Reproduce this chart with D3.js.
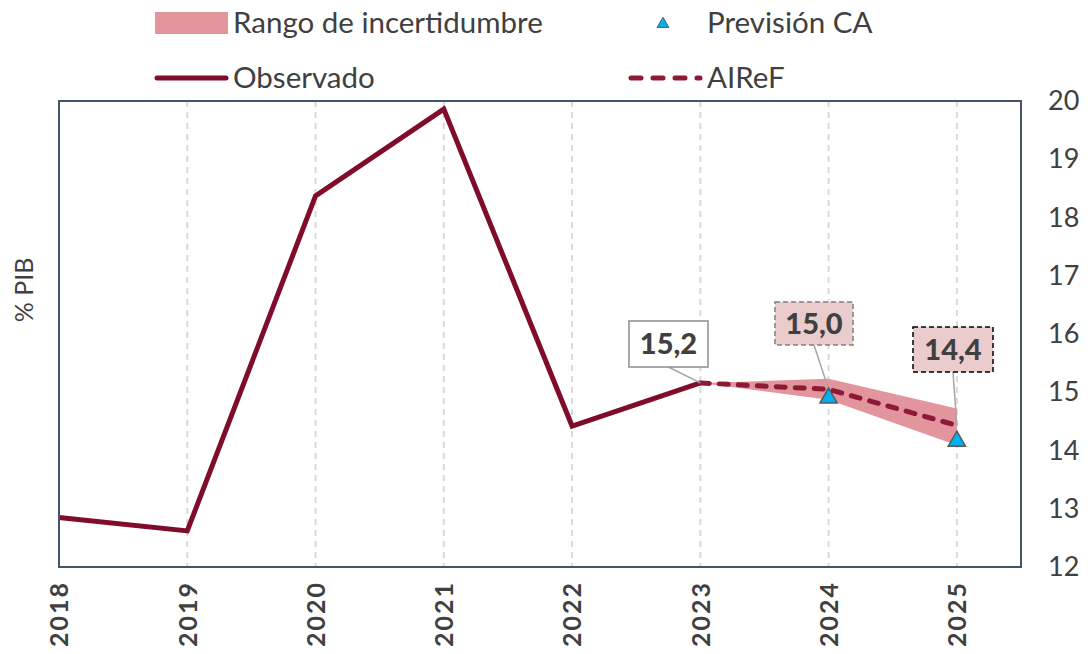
<!DOCTYPE html>
<html>
<head>
<meta charset="utf-8">
<script src="https://cdn.jsdelivr.net/npm/d3@7"></script>
<style>
  body { margin: 0; background: #fff; }
  svg text { font-family: Lato, "Open Sans", sans-serif; fill: #404040; }
</style>
</head>
<body>
<div class="chart"></div>
<script>
const years = [2018, 2019, 2020, 2021, 2022, 2023, 2024, 2025];
const observado = [12.85, 12.62, 18.37, 19.86, 14.42, 15.16];
const airefYears = [2023, 2024, 2025];
const aireF = [15.16, 15.05, 14.43];
const bandLow = [15.16, 14.87, 14.09];
const bandHigh = [15.16, 15.23, 14.72];
const caYears = [2024, 2025];
const previsionCA = [14.9, 14.16];
const yTicks = [12, 13, 14, 15, 16, 17, 18, 19, 20];
const labelTexts = ['15,2', '15,0', '14,4'];

const width = 1088, height = 654;
const margin = {top: 101, right: 67, bottom: 87, left: 59};

const svg = d3.select('.chart').append('svg')
  .attr('width', width)
  .attr('height', height);

const xScale = d3.scaleLinear()
  .domain([2018, 2025.5])
  .range([margin.left, width - margin.right]);

const yScale = d3.scaleLinear()
  .domain([12, 20])
  .range([height - margin.bottom, margin.top]);

// vertical gridlines
svg.append('g')
  .selectAll('line')
  .data(years.slice(1))
  .enter()
  .append('line')
  .attr('x1', d => xScale(d))
  .attr('x2', d => xScale(d))
  .attr('y1', margin.top)
  .attr('y2', height - margin.bottom)
  .attr('stroke', '#d9d9d9')
  .attr('stroke-width', 2)
  .attr('stroke-dasharray', '6,5');

// uncertainty band
const band = airefYears.map((y, i) => ({year: y, lo: bandLow[i], hi: bandHigh[i]}));
svg.append('path')
  .datum(band)
  .attr('fill', '#e3959e')
  .attr('d', d3.area()
    .x(d => xScale(d.year))
    .y0(d => yScale(d.lo))
    .y1(d => yScale(d.hi)));

// observed line
svg.append('path')
  .datum(observado.map((v, i) => [years[i], v]))
  .attr('fill', 'none')
  .attr('stroke', '#800c2b')
  .attr('stroke-width', 5)
  .attr('stroke-linejoin', 'miter')
  .attr('d', d3.line().x(d => xScale(d[0])).y(d => yScale(d[1])));

// AIReF dashed line
svg.append('path')
  .datum(aireF.map((v, i) => [airefYears[i], v]))
  .attr('fill', 'none')
  .attr('stroke', '#8c1a36')
  .attr('stroke-width', 5)
  .attr('stroke-linecap', 'round')
  .attr('stroke-dasharray', '9,10')
  .attr('d', d3.line().x(d => xScale(d[0])).y(d => yScale(d[1])));

// frame
svg.append('rect')
  .attr('x', margin.left)
  .attr('y', margin.top)
  .attr('width', width - margin.left - margin.right)
  .attr('height', height - margin.top - margin.bottom)
  .attr('fill', 'none')
  .attr('stroke', '#44546a')
  .attr('stroke-width', 2);

// data labels with leader lines
const labels = [
  {x: xScale(2023), y: yScale(observado[5]), bx: 629, by: 321, bw: 79, bh: 46, fill: '#fff', stroke: '#8c8c8c', dash: null, text: labelTexts[0]},
  {x: xScale(2024), y: yScale(aireF[1]), bx: 775, by: 302, bw: 78, bh: 43, fill: '#ebcccd', stroke: '#808080', dash: '5,3', text: labelTexts[1]},
  {x: xScale(2025), y: yScale(aireF[2]), bx: 913, by: 327, bw: 80, bh: 45, fill: '#ebcccd', stroke: '#000', dash: '5,3', text: labelTexts[2]}
];

labels.forEach(l => {
  svg.append('line')
    .attr('x1', l.bx + l.bw / 2)
    .attr('y1', l.by + l.bh)
    .attr('x2', l.x)
    .attr('y2', l.y)
    .attr('stroke', '#a6a6a6')
    .attr('stroke-width', 1.5);
});

// Previsión CA triangles
const tri = d3.symbol().type(d3.symbolTriangle).size(130);
svg.append('g')
  .selectAll('path')
  .data(caYears.map((y, i) => [y, previsionCA[i]]))
  .enter()
  .append('path')
  .attr('transform', d => `translate(${xScale(d[0])},${yScale(d[1])})`)
  .attr('d', tri)
  .attr('fill', '#00b0f0')
  .attr('stroke', '#595959')
  .attr('stroke-width', 1.5);

labels.forEach(l => {
  svg.append('rect')
    .attr('x', l.bx)
    .attr('y', l.by)
    .attr('width', l.bw)
    .attr('height', l.bh)
    .attr('fill', l.fill)
    .attr('stroke', l.stroke)
    .attr('stroke-width', 1.5)
    .attr('stroke-dasharray', l.dash);
  svg.append('text')
    .attr('x', l.bx + l.bw / 2)
    .attr('y', l.by + l.bh / 2 + 10)
    .attr('text-anchor', 'middle')
    .attr('font-size', 29)
    .attr('font-weight', 900)
    .text(l.text);
});

// right y axis
const yAxis = d3.axisRight(yScale)
  .tickValues(yTicks)
  .tickSize(0)
  .tickPadding(27)
  .tickFormat(d3.format('d'));

svg.append('g')
  .attr('transform', `translate(${width - margin.right},0)`)
  .call(yAxis)
  .call(g => g.select('.domain').remove())
  .selectAll('text')
  .attr('font-size', 27)
  .attr('font-family', 'Lato, sans-serif')
  .attr('fill', '#404040');

// bottom x axis, rotated labels
const xAxis = d3.axisBottom(xScale)
  .tickValues(years)
  .tickSize(0)
  .tickFormat(d3.format('d'));

svg.append('g')
  .attr('transform', `translate(0,${height - margin.bottom})`)
  .call(xAxis)
  .call(g => g.select('.domain').remove())
  .selectAll('text')
  .attr('font-size', 25)
  .attr('font-weight', 'bold')
  .attr('font-family', 'Lato, sans-serif')
  .attr('fill', '#404040')
  .attr('letter-spacing', 2)
  .attr('transform', 'rotate(-90)')
  .attr('text-anchor', 'end')
  .attr('x', -14)
  .attr('y', 0)
  .attr('dy', '0.35em');

// y axis title
svg.append('text')
  .attr('transform', 'translate(33,290) rotate(-90)')
  .attr('text-anchor', 'middle')
  .attr('font-size', 25)
  .text('% PIB');

// legend
const lg = svg.append('g');
lg.append('rect')
  .attr('x', 155).attr('y', 12).attr('width', 73).attr('height', 22)
  .attr('fill', '#e3959e');
lg.append('text').attr('x', 233).attr('y', 33).attr('font-size', 29.5).text('Rango de incertidumbre');

lg.append('path')
  .attr('transform', 'translate(663,24)')
  .attr('d', d3.symbol().type(d3.symbolTriangle).size(60))
  .attr('fill', '#00b0f0')
  .attr('stroke', '#595959')
  .attr('stroke-width', 1);
lg.append('text').attr('x', 707).attr('y', 33).attr('font-size', 29.5).text('Previsión CA');

lg.append('line')
  .attr('x1', 157).attr('x2', 226).attr('y1', 78).attr('y2', 78)
  .attr('stroke', '#800c2b').attr('stroke-width', 5).attr('stroke-linecap', 'round');
lg.append('text').attr('x', 233).attr('y', 88).attr('font-size', 29.5).text('Observado');

lg.append('line')
  .attr('x1', 631).attr('x2', 700).attr('y1', 78).attr('y2', 78)
  .attr('stroke', '#8c1a36').attr('stroke-width', 5).attr('stroke-linecap', 'round')
  .attr('stroke-dasharray', '10,12');
lg.append('text').attr('x', 707).attr('y', 88).attr('font-size', 29.5).text('AIReF');
</script>
</body>
</html>
